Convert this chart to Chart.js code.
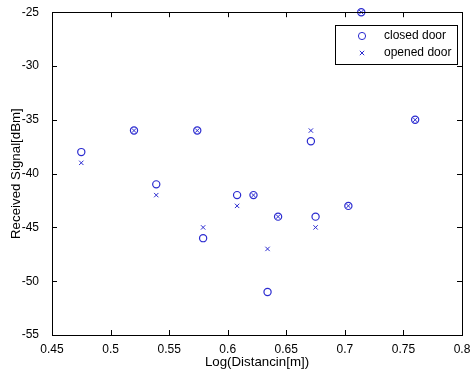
<!DOCTYPE html>
<html>
<head>
<meta charset="utf-8">
<script src="https://cdn.jsdelivr.net/npm/chart.js@4/dist/chart.umd.min.js"></script>
<style>
html,body{margin:0;padding:0;background:#fff;}
#wrap{width:472px;height:372px;position:relative;}
</style>
</head>
<body>
<div id="wrap"><canvas id="c" width="472" height="372"></canvas></div>
<script>
// ---- data ----
const logDistance = [0.475, 0.520, 0.539, 0.574, 0.579, 0.608, 0.622, 0.634, 0.643, 0.671, 0.675, 0.703, 0.714, 0.760];
const closedDoor  = [-38, -36, -41, -36, -46, -42, -42, -51, -44, -37, -44, -43, -25, -35];
const openedDoor  = [-39, -36, -42, -36, -45, -43, -42, -47, -44, -36, -45, -43, -25, -35];
const xTickValues = [0.45, 0.5, 0.55, 0.6, 0.65, 0.7, 0.75, 0.8];
const xTickLabels = ['0.45', '0.5', '0.55', '0.6', '0.65', '0.7', '0.75', '0.8'];
const yTickValues = [-55, -50, -45, -40, -35, -30, -25];
const yTickLabels = ['-55', '-50', '-45', '-40', '-35', '-30', '-25'];
const seriesNames = ['closed door', 'opened door'];

const markColor = '#2b2bd0';
const FONT = 'Liberation Sans, Arial, sans-serif';

const toPoints = (xs, ys) => xs.map((x, i) => ({x: x, y: ys[i]}));

const boxPlugin = {
  id: 'matlabBox',
  afterDraw(chart) {
    const ctx = chart.ctx, a = chart.chartArea;
    const xs = chart.scales.x, ys = chart.scales.y;
    ctx.save();
    ctx.strokeStyle = '#000';
    ctx.lineWidth = 1;
    ctx.strokeRect(Math.round(a.left) + 0.5, Math.round(a.top) + 0.5,
                   Math.round(a.right - a.left), Math.round(a.bottom - a.top));
    const L = 5;
    ctx.beginPath();
    xTickValues.forEach(v => {
      const px = Math.round(xs.getPixelForValue(v)) + 0.5;
      ctx.moveTo(px, a.bottom); ctx.lineTo(px, a.bottom - L);
      ctx.moveTo(px, a.top); ctx.lineTo(px, a.top + L);
    });
    yTickValues.forEach(v => {
      const py = Math.round(ys.getPixelForValue(v)) + 0.5;
      ctx.moveTo(a.left, py); ctx.lineTo(a.left + L, py);
      ctx.moveTo(a.right, py); ctx.lineTo(a.right - L, py);
    });
    ctx.stroke();

    // legend box
    const bx = 335.5, by = 25.5, bw = 122, bh = 39;
    ctx.fillStyle = '#fff';
    ctx.fillRect(bx, by, bw, bh);
    ctx.strokeRect(bx, by, bw, bh);
    ctx.font = '12px ' + FONT;
    ctx.textBaseline = 'middle';
    ctx.textAlign = 'left';
    const rows = [36, 53];
    chart.data.datasets.forEach((ds, i) => {
      const cy = rows[i], cx = 362;
      ctx.strokeStyle = ds.borderColor;
      ctx.lineWidth = 1;
      ctx.beginPath();
      if (ds.pointStyle === 'circle') {
        ctx.arc(cx, cy, 3.6, 0, Math.PI * 2);
      } else {
        const r = 2.2;
        ctx.moveTo(cx - r, cy - r); ctx.lineTo(cx + r, cy + r);
        ctx.moveTo(cx + r, cy - r); ctx.lineTo(cx - r, cy + r);
      }
      ctx.stroke();
      ctx.fillStyle = '#000';
      ctx.fillText(ds.label, 384, cy);
    });
    ctx.restore();
  }
};

new Chart(document.getElementById('c'), {
  type: 'scatter',
  data: {
    datasets: [
      {
        label: seriesNames[0],
        data: toPoints(logDistance, closedDoor),
        pointStyle: 'circle',
        pointRadius: 3.6,
        pointHoverRadius: 3.6,
        borderColor: markColor,
        backgroundColor: 'rgba(0,0,0,0)',
        borderWidth: 1.2,
        clip: false
      },
      {
        label: seriesNames[1],
        data: toPoints(logDistance, openedDoor),
        pointStyle: 'crossRot',
        pointRadius: 3.1,
        pointHoverRadius: 3.1,
        borderColor: markColor,
        backgroundColor: markColor,
        borderWidth: 1,
        clip: false
      }
    ]
  },
  options: {
    responsive: false,
    animation: false,
    devicePixelRatio: 1,
    layout: {padding: {top: 12, right: 10, left: 0, bottom: 0}},
    plugins: {legend: {display: false}, tooltip: {enabled: false}},
    scales: {
      x: {
        type: 'linear',
        min: 0.45, max: 0.8,
        afterBuildTicks: s => { s.ticks = xTickValues.map(v => ({value: v})); },
        afterFit: s => { s.height = 37; },
        ticks: {
          callback: (v) => xTickLabels[xTickValues.findIndex(t => Math.abs(t - v) < 1e-9)],
          color: '#000', font: {family: FONT, size: 12}, padding: -1, maxRotation: 0, autoSkip: false
        },
        grid: {display: false},
        border: {display: false},
        title: {display: true, text: 'Log(Distancin[m])', color: '#000', font: {family: FONT, size: 13.3}, padding: {top: 0, bottom: 2}}
      },
      y: {
        type: 'linear',
        min: -55, max: -25,
        afterBuildTicks: s => { s.ticks = yTickValues.map(v => ({value: v})); },
        afterFit: s => { s.width = 52; },
        ticks: {
          callback: (v) => yTickLabels[yTickValues.findIndex(t => Math.abs(t - v) < 1e-9)],
          color: '#000', font: {family: FONT, size: 12}, padding: 5, autoSkip: false
        },
        grid: {display: false},
        border: {display: false},
        title: {display: true, text: 'Received Signal[dBm]', color: '#000', font: {family: FONT, size: 13.3}, padding: {top: 8, bottom: 0}}
      }
    }
  },
  plugins: [boxPlugin]
});
</script>
</body>
</html>
